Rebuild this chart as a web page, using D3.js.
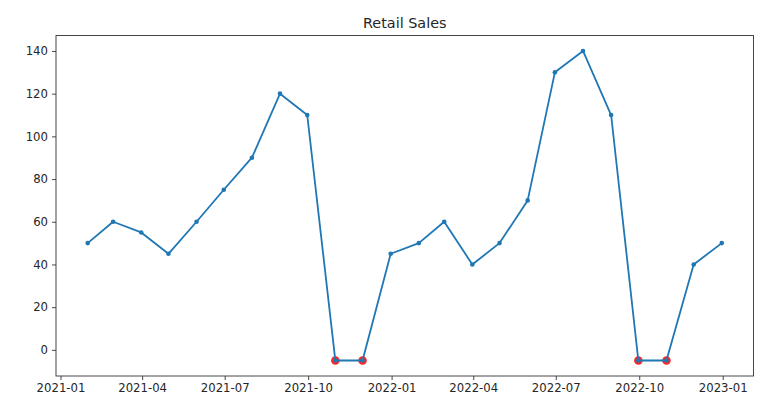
<!DOCTYPE html>
<html><head><meta charset="utf-8">
<script src="https://cdn.jsdelivr.net/npm/d3@7"></script>
<style>
body{margin:0;background:#fff;}
text{font-family:"DejaVu Sans",sans-serif;fill:#262626;}
</style></head>
<body><svg id="c" width="770" height="406"></svg>
<script>
const dates = ["2021-01-31","2021-02-28","2021-03-31","2021-04-30","2021-05-31","2021-06-30","2021-07-31","2021-08-31","2021-09-30","2021-10-31","2021-11-30","2021-12-31",
"2022-01-31","2022-02-28","2022-03-31","2022-04-30","2022-05-31","2022-06-30","2022-07-31","2022-08-31","2022-09-30","2022-10-31","2022-11-30","2022-12-31"];
const sales = [50,60,55,45,60,75,90,120,110,-5,-5,45,50,60,40,50,70,130,140,110,-5,-5,40,50];
const anomalyDates = ["2021-10-31","2021-11-30","2022-09-30","2022-10-31"];
const xTicks = ["2021-01-01","2021-04-01","2021-07-01","2021-10-01","2022-01-01","2022-04-01","2022-07-01","2022-10-01","2023-01-01"];
const yTicks = [0,20,40,60,80,100,120,140];
const title = "Retail Sales";

const parse = d3.utcParse("%Y-%m-%d");
const fmt = d3.utcFormat("%Y-%m");
const data = dates.map((d,i)=>({date:parse(d), v:sales[i]}));
const anomalies = data.filter(d=>anomalyDates.includes(dates[data.indexOf(d)]));

const L=56, R=753.5, T=35.5, B=376;
const svg = d3.select("#c");

const xe = d3.extent(data,d=>d.date);
const xspan = xe[1]-xe[0];
const x = d3.scaleUtc().domain([new Date(+xe[0]-0.05*xspan), new Date(+xe[1]+0.05*xspan)]).range([L,R]);
const ye = d3.extent(sales);
const yspan = ye[1]-ye[0];
const y = d3.scaleLinear().domain([ye[0]-0.05*yspan, ye[1]+0.05*yspan]).range([B,T]);

const xAxis = d3.axisBottom(x).tickValues(xTicks.map(parse)).tickFormat(fmt).tickSizeOuter(0).tickSize(4).tickPadding(4);
const yAxis = d3.axisLeft(y).tickValues(yTicks).tickSizeOuter(0).tickSize(4).tickPadding(4);

const gx = svg.append("g").attr("transform",`translate(0,${B})`).call(xAxis);
const gy = svg.append("g").attr("transform",`translate(${L},0)`).call(yAxis);
[gx,gy].forEach(g=>{
  g.select(".domain").remove();
  g.selectAll(".tick line").attr("stroke","#333").attr("stroke-width",0.9);
  g.selectAll(".tick text").attr("font-size","11.7px").attr("font-family","DejaVu Sans").attr("fill","#262626");
});

svg.append("rect").attr("x",L).attr("y",T).attr("width",R-L).attr("height",B-T)
  .attr("fill","none").attr("stroke","#333").attr("stroke-width",0.9);

svg.append("g").selectAll("circle.anom").data(anomalies).join("circle")
  .attr("cx",d=>x(d.date)).attr("cy",d=>y(d.v)).attr("r",4.3).attr("fill","#ff0000").attr("opacity",0.85);

const line = d3.line().x(d=>x(d.date)).y(d=>y(d.v));
svg.append("path").datum(data).attr("d",line).attr("fill","none").attr("stroke","#1f77b4").attr("stroke-width",1.8).attr("stroke-linejoin","round");
svg.append("g").selectAll("circle.pt").data(data).join("circle")
  .attr("cx",d=>x(d.date)).attr("cy",d=>y(d.v)).attr("r",2.3).attr("fill","#1f77b4");

svg.append("text").attr("x",(L+R)/2).attr("y",27.5).attr("text-anchor","middle")
  .attr("font-size","14.4px").text(title);
</script></body></html>
